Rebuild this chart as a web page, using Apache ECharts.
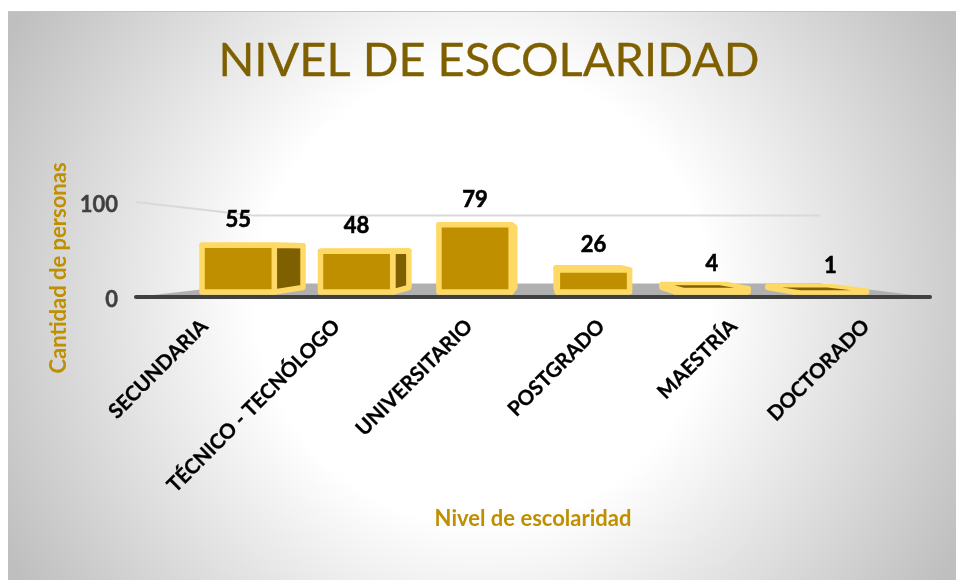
<!-- Nivel de escolaridad: barras con perspectiva en serie custom -->
<!DOCTYPE html>
<html>
<head>
<meta charset="utf-8">
<style>
	html, body { margin: 0; padding: 0; background: #fff; }
	#panel {
		position: absolute; left: 8px; top: 11px; width: 948px; height: 569px;
		border-top: 1px solid #c4c4c4; box-sizing: border-box;
		background: radial-gradient(circle 540px at 474px 284px, #fff 0, #fff 42%, #bfbfbf 100%);
	}
	#main { position: absolute; left: 0; top: 0; width: 956px; height: 580px; }
</style>
</head>
<body>
<div id="panel"></div>
<div id="main"></div>
<script src="https://cdn.jsdelivr.net/npm/echarts@6/dist/echarts.min.js"></script>
<script type="text/javascript">
	var categories = ['SECUNDARIA', 'TÉCNICO - TECNÓLOGO', 'UNIVERSITARIO', 'POSTGRADO', 'MAESTRÍA', 'DOCTORADO'];
	var values = [55, 48, 79, 26, 4, 1];
	var wallTick = [100];

	var fontName = 'Lato, "Noto Sans", sans-serif';
	var gold = '#BF8F00';
	var darkGold = '#7F6000';
	var lightGold = '#FFD966';

	// camara: punto de fuga y profundidades (1 = plano del eje)
	var vp = [545, 249.5];
	var depthFront = 0.895; // cara frontal de las barras
	var depthBack = 0.8; // cara trasera de las barras
	var depthWall = 0.714; // pared del fondo

	function project(p, s) {
	    return [vp[0] + s * (p[0] - vp[0]), vp[1] + s * (p[1] - vp[1])];
	}

	// piso y lineas de la pared, a partir de los extremos del eje
	function renderFrame(params, api) {
	    var n = categories.length;
	    var a0 = api.coord([0, 0]);
	    var b0 = api.coord([n - 1, 0]);
	    var half = api.size([1, 0])[0] / 2;
	    var left0 = [a0[0] - half, a0[1]];
	    var right0 = [b0[0] + half, b0[1]];
	    var y100 = api.coord([0, api.value(0)])[1];
	    var left100 = [left0[0], y100];
	    var right100 = [right0[0], y100];
	    var lineStyle = { stroke: '#D9D9D9', lineWidth: 2, fill: null };
	    return {
	        type: 'group',
	        children: [
	            {
	                type: 'polygon',
	                shape: { points: [left0, project(left0, depthWall), project(right0, depthWall), right0] },
	                style: { fill: '#B0B0B0' }
	            },
	            {
	                type: 'polyline',
	                shape: { points: [left100, project(left100, depthWall), project(right100, depthWall)] },
	                style: lineStyle
	            }
	        ]
	    };
	}

	// cada barra es un cubo proyectado: tapa, lados y frente
	function renderBar(params, api) {
	    var idx = api.value(0);
	    var val = api.value(1);
	    var base = api.coord([idx, 0]);
	    var top = api.coord([idx, val]);
	    var half = api.size([1, 0])[0] * 0.305;
	    var xl = base[0] - half;
	    var xr = base[0] + half;

	    var fbl = project([xl, base[1]], depthFront);
	    var fbr = project([xr, base[1]], depthFront);
	    var ftl = project([xl, top[1]], depthFront);
	    var ftr = project([xr, top[1]], depthFront);
	    var bbl = project([xl, base[1]], depthBack);
	    var bbr = project([xr, base[1]], depthBack);
	    var btl = project([xl, top[1]], depthBack);
	    var btr = project([xr, top[1]], depthBack);

	    function face(points, fill) {
	        return {
	            type: 'polygon',
	            shape: { points: points },
	            style: { fill: fill, stroke: lightGold, lineWidth: 5.5, lineJoin: 'round' }
	        };
	    }

	    var children = [];
	    children.push(face([btl, btr, ftr, ftl], gold));
	    if (bbr[0] > fbr[0]) {
	        children.push(face([ftr, btr, bbr, fbr], darkGold));
	    }
	    if (bbl[0] < fbl[0]) {
	        children.push(face([ftl, btl, bbl, fbl], darkGold));
	    }
	    children.push(face([ftl, ftr, fbr, fbl], gold));
	    // en barras casi planas la tapa se ve por encima del borde
	    if (ftl[1] - btl[1] > 3) {
	        var cx = (ftl[0] + ftr[0] + btl[0] + btr[0]) / 4;
	        var cy = (ftl[1] + btl[1]) / 2;
	        children.push({
	            type: 'polygon',
	            shape: {
	                points: [btl, btr, ftr, ftl].map(function (p) {
	                    return [cx + (p[0] - cx) * 0.7, cy + (p[1] - cy) * 0.6];
	                })
	            },
	            style: { fill: darkGold }
	        });
	    }
	    children.push({
	        type: 'text',
	        style: {
	            text: String(val),
	            x: (ftl[0] + ftr[0]) / 2,
	            y: ftl[1] - 25,
	            align: 'center',
	            verticalAlign: 'middle',
	            fill: '#000',
	            stroke: '#000',
	            lineWidth: 0.6,
	            font: 'bold 22px ' + fontName
	        }
	    });
	    return { type: 'group', children: children };
	}

	var myEchars = echarts.init(document.getElementById('main'));
	var option = {
	    animation: false,
	    backgroundColor: 'transparent',
	    title: {
	        text: 'NIVEL DE ESCOLARIDAD',
	        left: 484,
	        top: 32,
	        textAlign: 'center',
	        textStyle: {
	            color: darkGold,
	            fontFamily: fontName,
	            fontWeight: 'normal',
	            fontSize: 47,
	            textBorderColor: darkGold,
	            textBorderWidth: 0.3
	        }
	    },
	    grid: { left: 136, right: 26, top: 202, bottom: 283 },
	    graphic: [{
	        type: 'text',
	        rotation: Math.PI / 2,
	        x: 59,
	        y: 268,
	        style: {
	            text: 'Cantidad de personas',
	            align: 'center',
	            verticalAlign: 'middle',
	            fill: gold,
	            font: 'bold 22px ' + fontName
	        }
	    }],
	    xAxis: {
	        type: 'category',
	        data: categories,
	        z: 3,
	        name: 'Nivel de escolaridad',
	        nameLocation: 'middle',
	        nameGap: 211,
	        nameTextStyle: { color: gold, fontFamily: fontName, fontWeight: 'bold', fontSize: 22 },
	        axisTick: { show: false },
	        axisLine: { lineStyle: { color: '#404040', width: 4, cap: 'round' } },
	        axisLabel: {
	            rotate: 45,
	            interval: 0,
	            margin: 24,
	            formatter: '{a|{value}}',
	            rich: {
	                a: {
	                    padding: [6, 0, 0, 0],
	                    color: '#000',
	                    fontFamily: fontName,
	                    fontWeight: 'bold',
	                    fontSize: 20.5,
	                    textBorderColor: '#000',
	                    textBorderWidth: 0.3
	                }
	            }
	        }
	    },
	    yAxis: {
	        type: 'value',
	        min: 0,
	        max: 100,
	        interval: 100,
	        axisLine: { show: false },
	        axisTick: { show: false },
	        splitLine: { show: false },
	        axisLabel: {
	            margin: 18,
	            formatter: '{a|{value}}',
	            rich: {
	                a: {
	                    padding: [6, 0, 0, 0],
	                    color: '#404040',
	                    fontFamily: fontName,
	                    fontWeight: 'bold',
	                    fontSize: 22,
	                    textBorderColor: '#404040',
	                    textBorderWidth: 0.4
	                }
	            }
	        }
	    },
	    series: [
	        {
	            type: 'custom',
	            z: 1,
	            renderItem: renderFrame,
	            encode: { y: 0 },
	            data: wallTick.map(function (v) { return [v]; })
	        },
	        {
	            type: 'custom',
	            z: 2,
	            renderItem: renderBar,
	            encode: { x: 0, y: 1 },
	            data: values.map(function (v, i) { return [i, v]; })
	        }
	    ]
	};
	myEchars.setOption(option);
</script>
</body>
</html>
